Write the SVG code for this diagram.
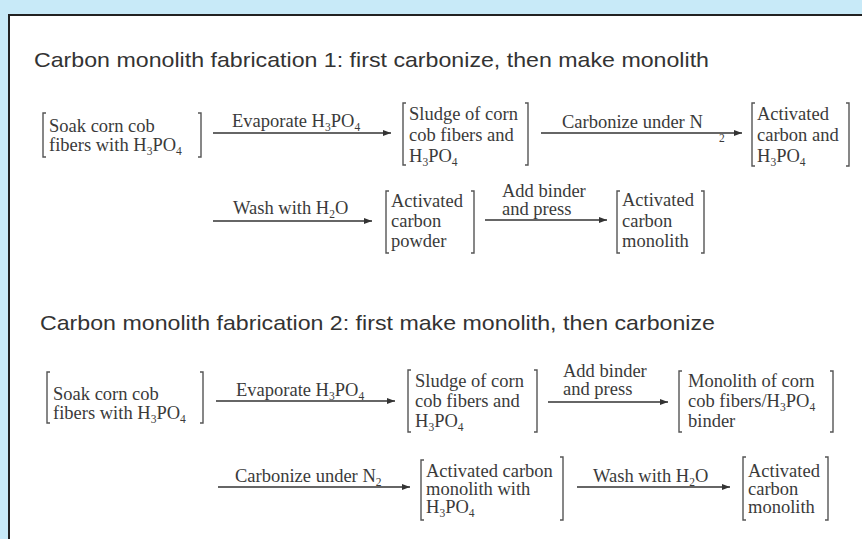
<svg xmlns="http://www.w3.org/2000/svg" width="862" height="539" viewBox="0 0 862 539">
<style>
.title{font-family:"Liberation Sans",Arial,sans-serif;font-size:21px;fill:#333}
.t{font-family:"Liberation Serif","Times New Roman",serif;font-size:18.5px;fill:#3a3a3a}
.s{font-size:11.5px}
.br{fill:none;stroke:#555;stroke-width:1.4}
.ar{fill:none;stroke:#333;stroke-width:1.5;marker-end:url(#ah)}
</style>
<defs>
<marker id="ah" markerUnits="userSpaceOnUse" markerWidth="9" markerHeight="7" refX="8" refY="3" orient="auto">
<path d="M0,0 L8,3 L0,6 z" fill="#333"/>
</marker>
</defs>
<rect x="0" y="0" width="862" height="539" fill="#c8eaf8"/>
<rect x="9" y="15" width="870" height="540" fill="#fff" stroke="#222" stroke-width="2"/>

<text class="title" x="34" y="67" textLength="675" lengthAdjust="spacingAndGlyphs">Carbon monolith fabrication 1: first carbonize, then make monolith</text>
<text class="title" x="40" y="330" textLength="675" lengthAdjust="spacingAndGlyphs">Carbon monolith fabrication 2: first make monolith, then carbonize</text>

<g id="connectors">
<g id="a1"><line class="ar" x1="213" y1="133" x2="391" y2="133"/>
<text class="t" x="232" y="127">Evaporate H<tspan class="s" dy="4">3</tspan><tspan dy="-4">PO</tspan><tspan class="s" dy="4">4</tspan></text></g>
<g id="a2"><line class="ar" x1="541" y1="133" x2="742" y2="133"/>
<text class="t" x="562" y="128">Carbonize under N</text><text class="t s" x="719" y="142">2</text></g>
<g id="a3"><line class="ar" x1="213" y1="221" x2="372" y2="221"/>
<text class="t" x="233" y="214">Wash with H<tspan class="s" dy="4">2</tspan><tspan dy="-4">O</tspan></text></g>
<g id="a4"><line class="ar" x1="485" y1="220" x2="607" y2="220"/>
<text class="t" x="502" y="197">Add binder</text><text class="t" x="502" y="215">and press</text></g>
<g id="a5"><line class="ar" x1="216" y1="401" x2="395" y2="401"/>
<text class="t" x="236" y="396">Evaporate H<tspan class="s" dy="4">3</tspan><tspan dy="-4">PO</tspan><tspan class="s" dy="4">4</tspan></text></g>
<g id="a6"><line class="ar" x1="548" y1="402" x2="668" y2="402"/>
<text class="t" x="563" y="377">Add binder</text><text class="t" x="563" y="395">and press</text></g>
<g id="a7"><line class="ar" x1="218" y1="487" x2="410" y2="487"/>
<text class="t" x="235" y="482">Carbonize under N<tspan class="s" dy="4">2</tspan></text></g>
<g id="a8"><line class="ar" x1="577" y1="487" x2="730" y2="487"/>
<text class="t" x="593" y="482">Wash with H<tspan class="s" dy="4">2</tspan><tspan dy="-4">O</tspan></text></g>
</g>

<g id="n1">
<path class="br" d="M46,113 H43 V157 H46"/><path class="br" d="M198,113 H201 V157 H198"/>
<text class="t" x="49" y="132">Soak corn cob</text>
<text class="t" x="49" y="151">fibers with H<tspan class="s" dy="4">3</tspan><tspan dy="-4">PO</tspan><tspan class="s" dy="4">4</tspan></text>
</g>
<g id="n2">
<path class="br" d="M406,103 H403 V165 H406"/><path class="br" d="M525,103 H528 V165 H525"/>
<text class="t" x="409" y="120">Sludge of corn</text>
<text class="t" x="409" y="141">cob fibers and</text>
<text class="t" x="409" y="162">H<tspan class="s" dy="4">3</tspan><tspan dy="-4">PO</tspan><tspan class="s" dy="4">4</tspan></text>
</g>
<g id="n3">
<path class="br" d="M755,103 H752 V166 H755"/><path class="br" d="M846,103 H849 V166 H846"/>
<text class="t" x="757" y="120">Activated</text>
<text class="t" x="757" y="141">carbon and</text>
<text class="t" x="757" y="162">H<tspan class="s" dy="4">3</tspan><tspan dy="-4">PO</tspan><tspan class="s" dy="4">4</tspan></text>
</g>
<g id="n4">
<path class="br" d="M389,191 H386 V253 H389"/><path class="br" d="M471,191 H474 V253 H471"/>
<text class="t" x="391" y="207">Activated</text>
<text class="t" x="391" y="227">carbon</text>
<text class="t" x="391" y="247">powder</text>
</g>
<g id="n5">
<path class="br" d="M620,191 H617 V253 H620"/><path class="br" d="M701,191 H704 V253 H701"/>
<text class="t" x="622" y="206">Activated</text>
<text class="t" x="622" y="227">carbon</text>
<text class="t" x="622" y="247">monolith</text>
</g>
<g id="n6">
<path class="br" d="M50,372 H47 V423 H50"/><path class="br" d="M200,372 H203 V423 H200"/>
<text class="t" x="53" y="400">Soak corn cob</text>
<text class="t" x="53" y="419">fibers with H<tspan class="s" dy="4">3</tspan><tspan dy="-4">PO</tspan><tspan class="s" dy="4">4</tspan></text>
</g>
<g id="n7">
<path class="br" d="M411,370 H408 V432 H411"/><path class="br" d="M534,370 H537 V432 H534"/>
<text class="t" x="415" y="387">Sludge of corn</text>
<text class="t" x="415" y="407">cob fibers and</text>
<text class="t" x="415" y="427">H<tspan class="s" dy="4">3</tspan><tspan dy="-4">PO</tspan><tspan class="s" dy="4">4</tspan></text>
</g>
<g id="n8">
<path class="br" d="M682,371 H679 V432 H682"/><path class="br" d="M830,371 H833 V432 H830"/>
<text class="t" x="688" y="387">Monolith of corn</text>
<text class="t" x="688" y="407">cob fibers/H<tspan class="s" dy="4">3</tspan><tspan dy="-4">PO</tspan><tspan class="s" dy="4">4</tspan></text>
<text class="t" x="688" y="427">binder</text>
</g>
<g id="n9">
<path class="br" d="M424,460 H421 V520 H424"/><path class="br" d="M560,457 H563 V520 H560"/>
<text class="t" x="426" y="477">Activated carbon</text>
<text class="t" x="426" y="495">monolith with</text>
<text class="t" x="426" y="513">H<tspan class="s" dy="4">3</tspan><tspan dy="-4">PO</tspan><tspan class="s" dy="4">4</tspan></text>
</g>
<g id="n10">
<path class="br" d="M746,457 H743 V520 H746"/><path class="br" d="M825,457 H828 V520 H825"/>
<text class="t" x="748" y="477">Activated</text>
<text class="t" x="748" y="495">carbon</text>
<text class="t" x="748" y="513">monolith</text>
</g>
</svg>
